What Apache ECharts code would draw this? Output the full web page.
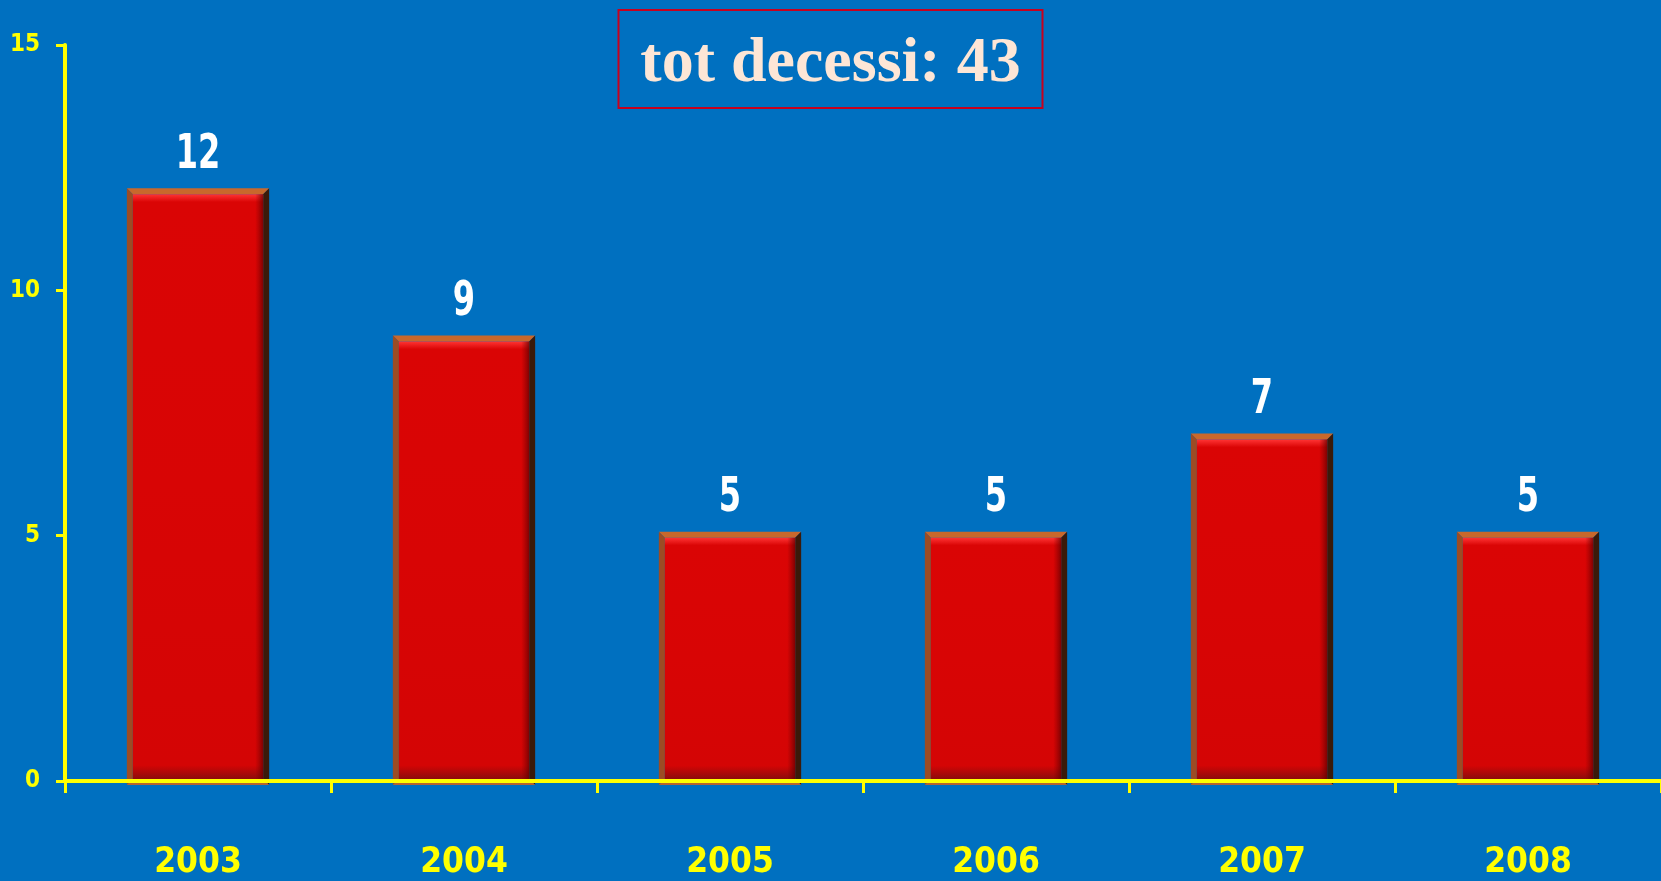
<!DOCTYPE html>
<html>
<head>
<meta charset="utf-8">
<script src="https://cdn.jsdelivr.net/npm/echarts@6/dist/echarts.min.js"></script>
<style>
  html, body { margin: 0; padding: 0; background: #0070c0; }
  #main { width: 1661px; height: 881px; }
</style>
</head>
<body>
<div id="main"></div>
<script>
// dati
var years = ['2003', '2004', '2005', '2006', '2007', '2008'];
var decessi = [12, 9, 5, 5, 7, 5];
var titolo = 'tot decessi: 43';

var narrow = "'DejaVu Sans Condensed', 'DejaVu Sans', sans-serif";

// barra con effetto rilievo
function renderBar(params, api) {
  var val = api.value(1);
  var top = api.coord([api.value(0), val]);
  var base = api.coord([api.value(0), 0]);
  var w = api.size([1, 0])[0] * 0.535;
  var x0 = top[0] - w / 2, x1 = top[0] + w / 2;
  var yT = top[1] - 4, yB = base[1] + 4;
  var b = 6;
  return {
    type: 'group',
    children: [
      { type: 'polygon', shape: { points: [[x0, yT], [x1, yT], [x1 - b, yT + b], [x0 + b, yT + b]] },
        style: { fill: '#c8682c' } },
      { type: 'polygon', shape: { points: [[x0, yT], [x0 + b, yT + b], [x0 + b, yB - b], [x0, yB]] },
        style: { fill: '#9c4c24' } },
      { type: 'polygon', shape: { points: [[x1, yT], [x1, yB], [x1 - b, yB - b], [x1 - b, yT + b]] },
        style: { fill: '#3a1a0a' } },
      { type: 'polygon', shape: { points: [[x0, yB], [x1, yB], [x1 - b, yB - b], [x0 + b, yB - b]] },
        style: { fill: '#b8642e' } },
      { type: 'rect', shape: { x: x0 + b, y: yT + b, width: w - 2 * b, height: yB - yT - 2 * b },
        style: { fill: new echarts.graphic.LinearGradient(0, 0, 0, 1, [
          { offset: 0, color: '#ff3434' },
          { offset: Math.min(0.5, 8 / (yB - yT)), color: '#da0505' },
          { offset: 0.5, color: '#d80505' },
          { offset: Math.max(0.5, 1 - 14 / (yB - yT)), color: '#d40505' },
          { offset: 1, color: '#8c0c0c' }
        ]) } },
      { type: 'rect', shape: { x: x1 - b - 8, y: yT + b, width: 8, height: yB - yT - 2 * b },
        style: { fill: new echarts.graphic.LinearGradient(0, 0, 1, 0, [
          { offset: 0, color: 'rgba(120,0,0,0)' },
          { offset: 1, color: 'rgba(90,0,0,0.7)' }
        ]) } },
      { type: 'text', x: top[0], y: yT - 9, scaleY: 1.5,
        style: {
          text: String(val), x: 0, y: 0, align: 'center', verticalAlign: 'bottom',
          fill: '#ffffff', font: "bold 32px 'DejaVu Sans', sans-serif" } }
    ]
  };
}

var chart = echarts.init(document.getElementById('main'));
chart.setOption({
  backgroundColor: '#0070c0',
  animation: false,
  title: {
    text: titolo,
    left: 'center',
    top: 10,
    padding: [18, 22, 8, 22],
    borderColor: '#c8001e',
    borderWidth: 2,
    textStyle: {
      color: '#fde6d6',
      fontFamily: "'Liberation Serif', 'DejaVu Serif', serif",
      fontWeight: 'bold',
      fontSize: 64,
      lineHeight: 72
    }
  },
  grid: { left: 65, top: 45, bottom: 100, width: 1605 },
  xAxis: {
    type: 'category',
    data: years,
    z: 10,
    axisLine: { lineStyle: { color: '#ffff00', width: 4 } },
    axisTick: { show: true, length: 12, lineStyle: { color: '#ffff00', width: 3 } },
    axisLabel: { color: '#ffff00', fontFamily: narrow, fontWeight: 'bold', fontSize: 35, margin: 64 }
  },
  yAxis: {
    type: 'value',
    min: 0,
    max: 15,
    interval: 5,
    z: 10,
    splitLine: { show: false },
    axisLine: { show: true, lineStyle: { color: '#ffff00', width: 4 } },
    axisTick: { show: true, length: 9, lineStyle: { color: '#ffff00', width: 3 } },
    axisLabel: { color: '#ffff00', fontFamily: narrow, fontWeight: 'bold', fontSize: 24, margin: 25 }
  },
  series: [{
    type: 'custom',
    z: 2,
    renderItem: renderBar,
    data: years.map(function (y, i) { return [i, decessi[i]]; })
  }]
});
</script>
</body>
</html>
